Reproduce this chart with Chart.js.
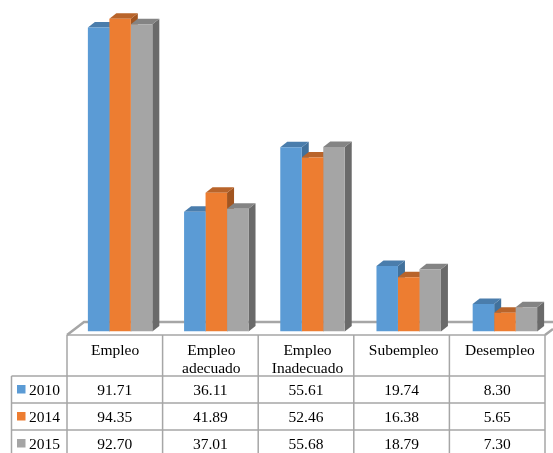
<!DOCTYPE html>
<html>
<head>
<meta charset="utf-8">
<script src="https://cdn.jsdelivr.net/npm/chart.js@4"></script>
<style>
  html, body { margin: 0; padding: 0; background: #fff; overflow: hidden; }
  canvas { display: block; }
</style>
</head>
<body>
<canvas id="chart" width="553" height="453"></canvas>
<script>
const categories = ['Empleo', ['Empleo', 'adecuado'], ['Empleo', 'Inadecuado'], 'Subempleo', 'Desempleo'];
const seriesNames = ['2010', '2014', '2015'];
const values2010 = [91.71, 36.11, 55.61, 19.74, 8.30];
const values2014 = [94.35, 41.89, 52.46, 16.38, 5.65];
const values2015 = [92.70, 37.01, 55.68, 18.79, 7.30];
const seriesValues = [values2010, values2014, values2015];
const frontColors = ['#5B9BD5', '#ED7D31', '#A5A5A5'];
const topColors = ['#4A7DAC', '#B9642A', '#848484'];
const sideColors = ['#41719C', '#A25520', '#6A6A6A'];

const FONT = '15.5px "Liberation Serif", "Times New Roman", serif';
const LINE = '#A6A6A6';

// fake 3D: floor behind the bars + top/side faces of each bar
const depth3d = {
    id: 'depth3d',
    beforeDatasetsDraw(chart) {
        const c = chart.ctx;
        c.save();
        c.strokeStyle = LINE;
        c.lineWidth = 2.5;
        c.beginPath();
        c.moveTo(67, 335);
        c.lineTo(84, 322);
        c.lineTo(553, 322);
        c.moveTo(545, 335);
        c.lineTo(553, 329);
        c.stroke();
        const dx = 7, dy = 5.5;
        chart.data.datasets.forEach((ds, i) => {
            chart.getDatasetMeta(i).data.forEach((bar) => {
                const left = bar.x - bar.width / 2;
                const right = bar.x + bar.width / 2;
                c.fillStyle = sideColors[i];
                c.beginPath();
                c.moveTo(right, bar.y);
                c.lineTo(right + dx, bar.y - dy);
                c.lineTo(right + dx, bar.base - dy);
                c.lineTo(right, bar.base);
                c.closePath();
                c.fill();
                c.fillStyle = topColors[i];
                c.beginPath();
                c.moveTo(left, bar.y);
                c.lineTo(left + dx, bar.y - dy);
                c.lineTo(right + dx, bar.y - dy);
                c.lineTo(right, bar.y);
                c.closePath();
                c.fill();
            });
        });
        c.restore();
    },
};

// data table under the plot
const dataTable = {
    id: 'dataTable',
    afterDraw(chart) {
        const c = chart.ctx;
        const left = 67, keyLeft = 11.5, colW = 95.6;
        const headTop = 335, rowTops = [376, 403, 430], rowH = 27;
        const bottom = rowTops[2] + rowH;
        c.save();
        c.strokeStyle = LINE;
        c.lineWidth = 1.5;
        c.beginPath();
        c.moveTo(left, headTop);
        c.lineTo(left + colW * 5, headTop);
        for (let i = 0; i <= 5; i++) {
            c.moveTo(left + colW * i, headTop);
            c.lineTo(left + colW * i, bottom);
        }
        rowTops.forEach((y) => {
            c.moveTo(keyLeft, y);
            c.lineTo(left + colW * 5, y);
        });
        c.moveTo(keyLeft, rowTops[0]);
        c.lineTo(keyLeft, bottom);
        c.stroke();

        c.font = FONT;
        c.fillStyle = '#000';
        c.textBaseline = 'middle';
        seriesNames.forEach((name, r) => {
            const y = rowTops[r] + rowH / 2 + 1;
            c.fillStyle = frontColors[r];
            c.fillRect(17, y - 5.5, 8.5, 8.5);
            c.fillStyle = '#000';
            c.textAlign = 'left';
            c.fillText(name, 29, y);
            c.textAlign = 'center';
            seriesValues[r].forEach((v, k) => {
                c.fillText(v.toFixed(2), left + colW * (k + 0.5), y);
            });
        });
        c.restore();
    },
};

new Chart(document.getElementById('chart'), {
    type: 'bar',
    data: {
        labels: categories,
        datasets: seriesNames.map((name, i) => ({
            label: name,
            data: seriesValues[i],
            backgroundColor: frontColors[i],
            borderWidth: 0,
            categoryPercentage: 0.67,
            barPercentage: 1,
        })),
    },
    options: {
        responsive: false,
        animation: false,
        layout: { padding: { left: 72, right: 0, top: 0, bottom: 0 } },
        plugins: {
            legend: { display: false },
            tooltip: { enabled: false },
        },
        scales: {
            x: {
                afterFit: (scale) => { scale.height = 121.5; },
                grid: { display: false, drawTicks: false },
                border: { display: false },
                ticks: {
                    color: '#000',
                    padding: 11,
                    labelOffset: -5,
                    autoSkip: false,
                    maxRotation: 0,
                    font: { family: '"Liberation Serif", "Times New Roman", serif', size: 15.5, lineHeight: 1.15 },
                },
            },
            y: { display: false, min: 0, max: 100 },
        },
    },
    plugins: [depth3d, dataTable],
});
</script>
</body>
</html>
